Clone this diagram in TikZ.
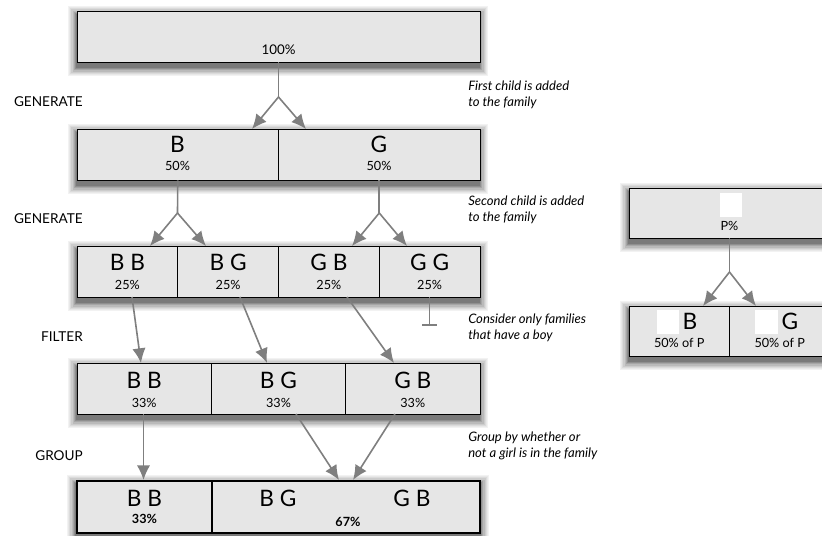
\documentclass[tikz,border=0pt]{standalone}
\usepackage{fontspec}
\setmainfont{Lato}
\usetikzlibrary{arrows.meta,backgrounds}
\definecolor{boxfill}{HTML}{E6E6E6}
\definecolor{arrgray}{HTML}{7F7F7F}
\tikzset{
  rowbox/.style={draw=black, line width=0.7pt, fill=boxfill, inner sep=0pt, minimum height=38.25pt},
  cellbox/.style={draw=black, line width=0.7pt, inner sep=0pt, minimum height=38.25pt},
  thickrow/.style={rowbox, line width=2.2pt, minimum height=39pt},
  thickcell/.style={draw=black, line width=2.2pt, inner sep=0pt, minimum height=39pt},
  big/.style={inner sep=0pt, font=\fontsize{17}{17}\selectfont},
  pct/.style={inner sep=0pt, font=\fontsize{9.5}{9.5}\selectfont},
  bpct/.style={inner sep=0pt, font=\bfseries\fontsize{9.5}{9.5}\selectfont},
  steplabel/.style={inner sep=0pt, anchor=east, font=\fontsize{10.2}{10.2}\selectfont},
  note/.style={inner sep=0pt, anchor=west, align=left, font=\itshape\fontsize{9.8}{12}\selectfont},
  conn/.style={draw=arrgray, line width=1.2pt},
  arr/.style={conn, -{Latex[length=11pt,width=10pt]}},
  blank/.style={fill=white, draw=none, inner sep=0pt, minimum width=17pt, minimum height=18pt}
}
\begin{document}
\begin{tikzpicture}[x=0.75pt,y=-0.75pt]
\useasboundingbox (0,0) rectangle (822,536);

% Row 1
\node[rowbox, minimum width=302.25pt] (r1) at (278.5,36.5) {};
\node[pct, font=\fontsize{10}{10}\selectfont] (t100) at (278.5,50) {100\%};

% Row 2
\node[rowbox, minimum width=302.25pt] (r2) at (278.5,154.5) {};
\node[cellbox, minimum width=151.1pt] (b) at (177.75,154.5) {};
\node[cellbox, minimum width=151.1pt] (g) at (379.25,154.5) {};
\node[big] (tb) at (177.5,144) {B};
\node[pct] (pb) at (177.5,166) {50\%};
\node[big] (tg) at (379,144) {G};
\node[pct] (pg) at (379,166) {50\%};

% Row 3
\node[rowbox, minimum width=302.25pt] (r3) at (278.5,271.5) {};
\node[cellbox, minimum width=75.56pt] (bb) at (127.4,271.5) {};
\node[cellbox, minimum width=75.56pt] (bg) at (228.1,271.5) {};
\node[cellbox, minimum width=75.56pt] (gb) at (328.9,271.5) {};
\node[cellbox, minimum width=75.56pt] (gg) at (429.6,271.5) {};
\node[big] (tbb) at (127.4,262) {B B};
\node[big] (tbg) at (228.1,262) {B G};
\node[big] (tgb) at (328.9,262) {G B};
\node[big] (tgg) at (429.6,262) {G G};
\node[pct] (pbb) at (127.4,285) {25\%};
\node[pct] (pbg) at (228.1,285) {25\%};
\node[pct] (pgb) at (328.9,285) {25\%};
\node[pct] (pgg) at (429.6,285) {25\%};

% Row 4
\node[rowbox, minimum width=302.25pt] (r4) at (278.5,388.5) {};
\node[cellbox, minimum width=100.75pt] (fbb) at (144.2,388.5) {};
\node[cellbox, minimum width=100.75pt] (fbg) at (278.5,388.5) {};
\node[cellbox, minimum width=100.75pt] (fgb) at (412.8,388.5) {};
\node[big] (tfbb) at (144.2,380) {B B};
\node[big] (tfbg) at (278.5,380) {B G};
\node[big] (tfgb) at (412.8,380) {G B};
\node[pct] (pfbb) at (144.2,403) {33\%};
\node[pct] (pfbg) at (278.5,403) {33\%};
\node[pct] (pfgb) at (412.8,403) {33\%};

% Row 5
\node[thickrow, minimum width=302.25pt] (r5) at (278.5,507) {};
\node[thickcell, minimum width=101.25pt] (gbb) at (144.5,507) {};
\node[thickcell, minimum width=201pt] (ggirl) at (346,507) {};
\node[big] (tgbb) at (144.5,498) {B B};
\node[bpct] (pgbb) at (144.5,519) {33\%};
\node[big] (tgbg) at (278,498) {B G};
\node[big] (tggb) at (412,498) {G B};
\node[bpct] (pgirl) at (348,522) {67\%};

% Step labels
\node[steplabel] (l1) at (83,102) {GENERATE};
\node[steplabel] (l2) at (83,219) {GENERATE};
\node[steplabel] (l3) at (83,337) {FILTER};
\node[steplabel] (l4) at (83,456) {GROUP};

% Notes
\node[note] (n1) at (468,95) {First child is added\\to the family};
\node[note] (n2) at (468,210) {Second child is added\\to the family};
\node[note] (n3) at (468,328) {Consider only families\\that have a boy};
\node[note] (n4) at (468,446) {Group by whether or\\not a girl is in the family};

% Connectors row1 -> row2
\coordinate (f1) at (278.5,97);
\coordinate (e1) at (252,129);
\coordinate (e2) at (306,129);
\draw[conn] (r1.south) -- (f1);
\draw[arr] (f1) -- (e1);
\draw[arr] (f1) -- (e2);

% row2 -> row3
\coordinate (f2) at (177.5,213);
\coordinate (e3) at (150,246);
\coordinate (e4) at (206,246);
\draw[conn] (b.south) -- (f2);
\draw[arr] (f2) -- (e3);
\draw[arr] (f2) -- (e4);
\coordinate (f3) at (379.25,213);
\coordinate (e5) at (352,246);
\coordinate (e6) at (407,246);
\draw[conn] (g.south) -- (f3);
\draw[arr] (f3) -- (e5);
\draw[arr] (f3) -- (e6);

% row3 -> row4
\coordinate (s1) at (132,297);
\coordinate (d1) at (141,363);
\coordinate (s2) at (240,297);
\coordinate (d2) at (267,363);
\coordinate (s3) at (347,297);
\coordinate (d3) at (394,363);
\draw[arr] (s1) -- (d1);
\draw[arr] (s2) -- (d2);
\draw[arr] (s3) -- (d3);
\coordinate (t1) at (429.6,326);
\draw[conn, -{Bar[width=11pt]}] (gg.south) -- (t1);

% row4 -> row5
\coordinate (s4) at (143.5,414);
\coordinate (d4) at (143.5,480);
\coordinate (s5) at (296,414);
\coordinate (d5) at (339,480);
\coordinate (s6) at (395,414);
\coordinate (d6) at (353,480);
\draw[arr] (s4) -- (d4);
\draw[arr] (s5) -- (d5);
\draw[arr] (s6) -- (d6);

% Right diagram
\node[rowbox, minimum width=150.75pt, minimum height=37.5pt] (p) at (729.5,213) {};
\node[blank] (w0) at (731,204.5) {};
\node[pct] (tp) at (729.5,226) {P\%};
\node[rowbox, minimum width=150.75pt, minimum height=37.5pt] (pr) at (729.5,331) {};
\node[cellbox, minimum width=75.4pt, minimum height=37.5pt] (pb1) at (679.25,331) {};
\node[cellbox, minimum width=75.4pt, minimum height=37.5pt] (pg1) at (779.75,331) {};
\node[blank] (w1) at (668,322) {};
\node[blank] (w2) at (766.5,322) {};
\node[big] (tpb) at (690,321) {B};
\node[big] (tpg) at (790,321) {G};
\node[pct] (ppb) at (679.25,343) {50\% of P};
\node[pct] (ppg) at (779.75,343) {50\% of P};
\coordinate (f4) at (729.5,272);
\coordinate (e7) at (703,306);
\coordinate (e8) at (756,306);
\draw[conn] (p.south) -- (f4);
\draw[arr] (f4) -- (e7);
\draw[arr] (f4) -- (e8);

% Soft drop shadows (solid layers, lightest and largest first)
\begin{scope}[on background layer]
\foreach \n in {r1,r2,r3,r4,r5,p,pr} {
  \foreach \e/\c in {5.5/5,4.6/9,3.7/14,2.8/20,1.9/27,1/35,0.1/44,-0.8/52} {
    \fill[black!\c] ([xshift=-1pt-\e pt, yshift=-5pt-\e pt]\n.south west)
      rectangle ([xshift=0.5pt+\e pt, yshift=-2pt+\e pt]\n.north east);
  }
}
\end{scope}
\end{tikzpicture}
\end{document}
